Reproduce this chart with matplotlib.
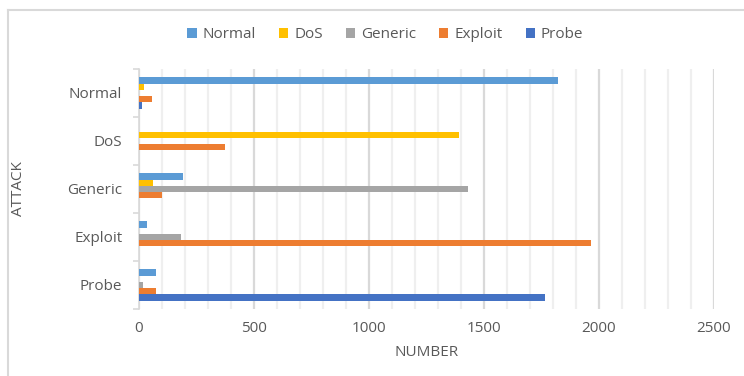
import numpy as np
import matplotlib.pyplot as plt
from matplotlib.lines import Line2D

plt.rcParams['font.family'] = ['Open Sans', 'DejaVu Sans']

attacks = ['Normal', 'DoS', 'Generic', 'Exploit', 'Probe']
series = ['Normal', 'DoS', 'Generic', 'Exploit', 'Probe']
colors = ['#5B9BD5', '#FFC000', '#A5A5A5', '#ED7D31', '#4472C4']

# rows = predicted class (series), columns = attack category
normal = [1820, 0, 192, 33, 72]
dos = [23, 1391, 62, 0, 0]
generic = [0, 0, 1430, 183, 16]
exploit = [55, 374, 101, 1966, 72]
probe = [15, 0, 0, 0, 1766]
values = [normal, dos, generic, exploit, probe]

txt = '#595959'
fs = 11

fig = plt.figure(figsize=(7.44, 3.76), dpi=100)
ax = fig.add_axes([139 / 744, 1 - 309 / 376, (714 - 139) / 744, (309 - 69) / 376])

y = np.arange(len(attacks))
h = 0.13
for j, (name, vals) in enumerate(zip(series, values)):
    ax.barh(y + (j - 2) * h, vals, height=h, color=colors[j], label=name, zorder=3)

ax.set_xlim(0, 2500)
ax.set_ylim(len(attacks) - 0.5, -0.5)
ax.set_xticks(np.arange(0, 2501, 500))
ax.set_xticks(np.arange(0, 2501, 100), minor=True)
ax.grid(axis='x', which='minor', color='#EFEFEF', linewidth=1.6, zorder=0)
ax.grid(axis='x', which='major', color='#D9D9D9', linewidth=1.6, zorder=1)

ax.set_yticks(y)
ax.set_yticklabels(attacks)
ax.set_yticks(np.arange(-0.5, len(attacks)), minor=True)
ax.tick_params(axis='y', which='major', length=0, pad=12, labelsize=fs, labelcolor=txt)
ax.tick_params(axis='y', which='minor', length=4, color='#D9D9D9', width=1.2)
ax.tick_params(axis='x', which='both', length=0, pad=9, labelsize=fs, labelcolor=txt)

for s in ['top', 'right', 'bottom']:
    ax.spines[s].set_visible(False)
ax.spines['left'].set_color('#D9D9D9')
ax.spines['left'].set_linewidth(1.2)

ax.set_xlabel('NUMBER', fontsize=fs, color=txt, labelpad=6)
ax.set_ylabel('ATTACK', fontsize=fs, color=txt)
ax.yaxis.set_label_coords(-0.196, 0.5)

fig.legend(loc='center', bbox_to_anchor=(0.518, 1 - 35 / 376), ncol=5, frameon=False,
           fontsize=fs, labelcolor=txt, handlelength=0.6, handleheight=0.6,
           handletextpad=0.4, columnspacing=1.5)

# chart area border (left and top edges)
fig.add_artist(Line2D([8 / 744, 8 / 744], [0, 1 - 10 / 376], color='#D9D9D9', lw=1.5))
fig.add_artist(Line2D([8 / 744, 1], [1 - 10 / 376, 1 - 10 / 376], color='#D9D9D9', lw=1.5))

fig.savefig('out.png', dpi=100)
